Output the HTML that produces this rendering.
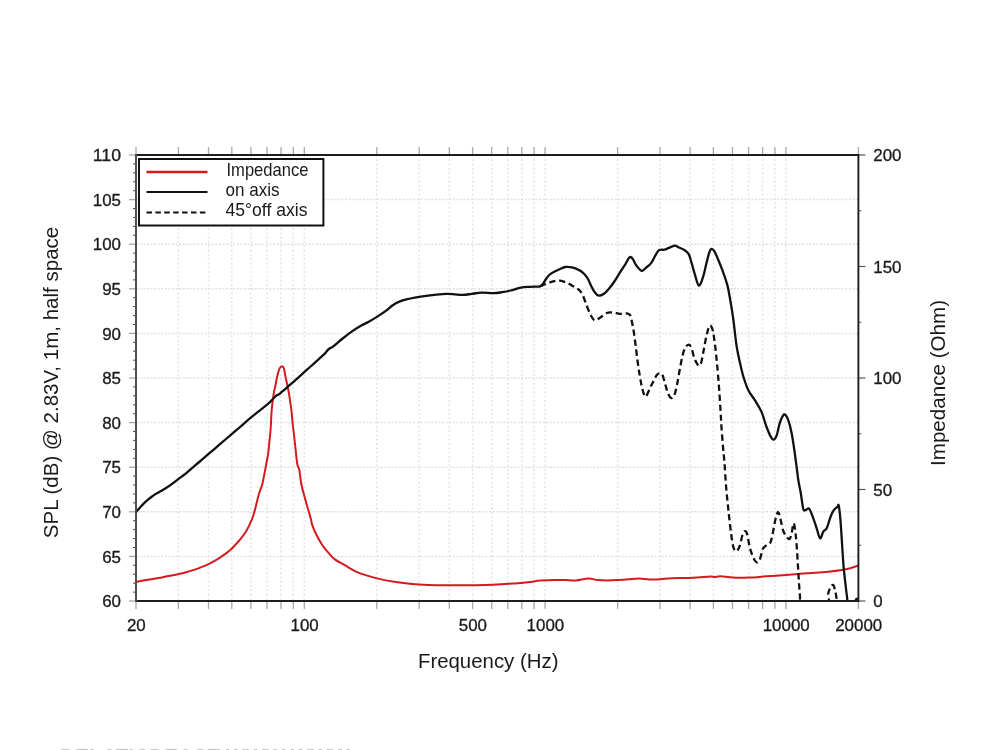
<!DOCTYPE html><html><head><meta charset="utf-8"><style>
html,body{margin:0;padding:0;background:#fff;width:1000px;height:750px;overflow:hidden}
svg{display:block;filter:blur(0.35px)} text{font-family:"Liberation Sans",sans-serif;fill:#1a1a1a} .t{stroke:#1a1a1a;stroke-width:0.3px}
</style></head><body>
<svg width="1000" height="750" viewBox="0 0 1000 750">
<g stroke="#e2e2e2" stroke-width="1.5" fill="none">
<line x1="178.4" y1="155.0" x2="178.4" y2="601.0" stroke-dasharray="1.8 2.5"/>
<line x1="208.5" y1="155.0" x2="208.5" y2="601.0" stroke-dasharray="1.8 2.5"/>
<line x1="231.8" y1="155.0" x2="231.8" y2="601.0" stroke-dasharray="1.8 2.5"/>
<line x1="250.9" y1="155.0" x2="250.9" y2="601.0" stroke-dasharray="1.8 2.5"/>
<line x1="267.0" y1="155.0" x2="267.0" y2="601.0" stroke-dasharray="1.8 2.5"/>
<line x1="281.0" y1="155.0" x2="281.0" y2="601.0" stroke-dasharray="1.8 2.5"/>
<line x1="293.3" y1="155.0" x2="293.3" y2="601.0" stroke-dasharray="1.8 2.5"/>
<line x1="304.3" y1="155.0" x2="304.3" y2="601.0" stroke-dasharray="1.8 2.5"/>
<line x1="376.8" y1="155.0" x2="376.8" y2="601.0" stroke-dasharray="1.8 2.5"/>
<line x1="419.2" y1="155.0" x2="419.2" y2="601.0" stroke-dasharray="1.8 2.5"/>
<line x1="449.3" y1="155.0" x2="449.3" y2="601.0" stroke-dasharray="1.8 2.5"/>
<line x1="472.6" y1="155.0" x2="472.6" y2="601.0" stroke-dasharray="1.8 2.5"/>
<line x1="491.7" y1="155.0" x2="491.7" y2="601.0" stroke-dasharray="1.8 2.5"/>
<line x1="507.8" y1="155.0" x2="507.8" y2="601.0" stroke-dasharray="1.8 2.5"/>
<line x1="521.8" y1="155.0" x2="521.8" y2="601.0" stroke-dasharray="1.8 2.5"/>
<line x1="534.1" y1="155.0" x2="534.1" y2="601.0" stroke-dasharray="1.8 2.5"/>
<line x1="545.1" y1="155.0" x2="545.1" y2="601.0" stroke-dasharray="1.8 2.5"/>
<line x1="617.6" y1="155.0" x2="617.6" y2="601.0" stroke-dasharray="1.8 2.5"/>
<line x1="660.0" y1="155.0" x2="660.0" y2="601.0" stroke-dasharray="1.8 2.5"/>
<line x1="690.1" y1="155.0" x2="690.1" y2="601.0" stroke-dasharray="1.8 2.5"/>
<line x1="713.4" y1="155.0" x2="713.4" y2="601.0" stroke-dasharray="1.8 2.5"/>
<line x1="732.5" y1="155.0" x2="732.5" y2="601.0" stroke-dasharray="1.8 2.5"/>
<line x1="748.6" y1="155.0" x2="748.6" y2="601.0" stroke-dasharray="1.8 2.5"/>
<line x1="762.6" y1="155.0" x2="762.6" y2="601.0" stroke-dasharray="1.8 2.5"/>
<line x1="774.9" y1="155.0" x2="774.9" y2="601.0" stroke-dasharray="1.8 2.5"/>
<line x1="785.9" y1="155.0" x2="785.9" y2="601.0" stroke-dasharray="1.8 2.5"/>
<line x1="136.0" y1="556.4" x2="858.4" y2="556.4" stroke-dasharray="2.1 1.5"/>
<line x1="136.0" y1="511.8" x2="858.4" y2="511.8" stroke-dasharray="2.1 1.5"/>
<line x1="136.0" y1="467.2" x2="858.4" y2="467.2" stroke-dasharray="2.1 1.5"/>
<line x1="136.0" y1="422.6" x2="858.4" y2="422.6" stroke-dasharray="2.1 1.5"/>
<line x1="136.0" y1="378.0" x2="858.4" y2="378.0" stroke-dasharray="2.1 1.5"/>
<line x1="136.0" y1="333.4" x2="858.4" y2="333.4" stroke-dasharray="2.1 1.5"/>
<line x1="136.0" y1="288.8" x2="858.4" y2="288.8" stroke-dasharray="2.1 1.5"/>
<line x1="136.0" y1="244.2" x2="858.4" y2="244.2" stroke-dasharray="2.1 1.5"/>
<line x1="136.0" y1="199.6" x2="858.4" y2="199.6" stroke-dasharray="2.1 1.5"/>
</g>
<g stroke="#a8a8a8" stroke-width="1.3" fill="none">
<line x1="136.0" y1="601.0" x2="136.0" y2="609.0"/>
<line x1="136.0" y1="155.0" x2="136.0" y2="147.0"/>
<line x1="178.4" y1="601.0" x2="178.4" y2="609.0"/>
<line x1="178.4" y1="155.0" x2="178.4" y2="147.0"/>
<line x1="208.5" y1="601.0" x2="208.5" y2="609.0"/>
<line x1="208.5" y1="155.0" x2="208.5" y2="147.0"/>
<line x1="231.8" y1="601.0" x2="231.8" y2="609.0"/>
<line x1="231.8" y1="155.0" x2="231.8" y2="147.0"/>
<line x1="250.9" y1="601.0" x2="250.9" y2="609.0"/>
<line x1="250.9" y1="155.0" x2="250.9" y2="147.0"/>
<line x1="267.0" y1="601.0" x2="267.0" y2="609.0"/>
<line x1="267.0" y1="155.0" x2="267.0" y2="147.0"/>
<line x1="281.0" y1="601.0" x2="281.0" y2="609.0"/>
<line x1="281.0" y1="155.0" x2="281.0" y2="147.0"/>
<line x1="293.3" y1="601.0" x2="293.3" y2="609.0"/>
<line x1="293.3" y1="155.0" x2="293.3" y2="147.0"/>
<line x1="304.3" y1="601.0" x2="304.3" y2="609.0"/>
<line x1="304.3" y1="155.0" x2="304.3" y2="147.0"/>
<line x1="376.8" y1="601.0" x2="376.8" y2="609.0"/>
<line x1="376.8" y1="155.0" x2="376.8" y2="147.0"/>
<line x1="419.2" y1="601.0" x2="419.2" y2="609.0"/>
<line x1="419.2" y1="155.0" x2="419.2" y2="147.0"/>
<line x1="449.3" y1="601.0" x2="449.3" y2="609.0"/>
<line x1="449.3" y1="155.0" x2="449.3" y2="147.0"/>
<line x1="472.6" y1="601.0" x2="472.6" y2="609.0"/>
<line x1="472.6" y1="155.0" x2="472.6" y2="147.0"/>
<line x1="491.7" y1="601.0" x2="491.7" y2="609.0"/>
<line x1="491.7" y1="155.0" x2="491.7" y2="147.0"/>
<line x1="507.8" y1="601.0" x2="507.8" y2="609.0"/>
<line x1="507.8" y1="155.0" x2="507.8" y2="147.0"/>
<line x1="521.8" y1="601.0" x2="521.8" y2="609.0"/>
<line x1="521.8" y1="155.0" x2="521.8" y2="147.0"/>
<line x1="534.1" y1="601.0" x2="534.1" y2="609.0"/>
<line x1="534.1" y1="155.0" x2="534.1" y2="147.0"/>
<line x1="545.1" y1="601.0" x2="545.1" y2="609.0"/>
<line x1="545.1" y1="155.0" x2="545.1" y2="147.0"/>
<line x1="617.6" y1="601.0" x2="617.6" y2="609.0"/>
<line x1="617.6" y1="155.0" x2="617.6" y2="147.0"/>
<line x1="660.0" y1="601.0" x2="660.0" y2="609.0"/>
<line x1="660.0" y1="155.0" x2="660.0" y2="147.0"/>
<line x1="690.1" y1="601.0" x2="690.1" y2="609.0"/>
<line x1="690.1" y1="155.0" x2="690.1" y2="147.0"/>
<line x1="713.4" y1="601.0" x2="713.4" y2="609.0"/>
<line x1="713.4" y1="155.0" x2="713.4" y2="147.0"/>
<line x1="732.5" y1="601.0" x2="732.5" y2="609.0"/>
<line x1="732.5" y1="155.0" x2="732.5" y2="147.0"/>
<line x1="748.6" y1="601.0" x2="748.6" y2="609.0"/>
<line x1="748.6" y1="155.0" x2="748.6" y2="147.0"/>
<line x1="762.6" y1="601.0" x2="762.6" y2="609.0"/>
<line x1="762.6" y1="155.0" x2="762.6" y2="147.0"/>
<line x1="774.9" y1="601.0" x2="774.9" y2="609.0"/>
<line x1="774.9" y1="155.0" x2="774.9" y2="147.0"/>
<line x1="785.9" y1="601.0" x2="785.9" y2="609.0"/>
<line x1="785.9" y1="155.0" x2="785.9" y2="147.0"/>
<line x1="858.4" y1="601.0" x2="858.4" y2="609.0"/>
<line x1="858.4" y1="155.0" x2="858.4" y2="147.0"/>
<line x1="129.0" y1="601.0" x2="136.0" y2="601.0"/>
<line x1="129.0" y1="556.4" x2="136.0" y2="556.4"/>
<line x1="129.0" y1="511.8" x2="136.0" y2="511.8"/>
<line x1="129.0" y1="467.2" x2="136.0" y2="467.2"/>
<line x1="129.0" y1="422.6" x2="136.0" y2="422.6"/>
<line x1="129.0" y1="378.0" x2="136.0" y2="378.0"/>
<line x1="129.0" y1="333.4" x2="136.0" y2="333.4"/>
<line x1="129.0" y1="288.8" x2="136.0" y2="288.8"/>
<line x1="129.0" y1="244.2" x2="136.0" y2="244.2"/>
<line x1="129.0" y1="199.6" x2="136.0" y2="199.6"/>
<line x1="129.0" y1="155.0" x2="136.0" y2="155.0"/>
</g><g stroke="#555" stroke-width="1.2" fill="none">
<line x1="858.4" y1="601.0" x2="865.4" y2="601.0"/>
<line x1="858.4" y1="489.5" x2="865.4" y2="489.5"/>
<line x1="858.4" y1="378.0" x2="865.4" y2="378.0"/>
<line x1="858.4" y1="266.5" x2="865.4" y2="266.5"/>
<line x1="858.4" y1="155.0" x2="865.4" y2="155.0"/>
</g>
<g stroke="#555" stroke-width="1" fill="none">
<line x1="133.0" y1="592.1" x2="136.0" y2="592.1"/>
<line x1="133.0" y1="583.2" x2="136.0" y2="583.2"/>
<line x1="133.0" y1="574.2" x2="136.0" y2="574.2"/>
<line x1="133.0" y1="565.3" x2="136.0" y2="565.3"/>
<line x1="133.0" y1="547.5" x2="136.0" y2="547.5"/>
<line x1="133.0" y1="538.6" x2="136.0" y2="538.6"/>
<line x1="133.0" y1="529.6" x2="136.0" y2="529.6"/>
<line x1="133.0" y1="520.7" x2="136.0" y2="520.7"/>
<line x1="133.0" y1="502.9" x2="136.0" y2="502.9"/>
<line x1="133.0" y1="494.0" x2="136.0" y2="494.0"/>
<line x1="133.0" y1="485.0" x2="136.0" y2="485.0"/>
<line x1="133.0" y1="476.1" x2="136.0" y2="476.1"/>
<line x1="133.0" y1="458.3" x2="136.0" y2="458.3"/>
<line x1="133.0" y1="449.4" x2="136.0" y2="449.4"/>
<line x1="133.0" y1="440.4" x2="136.0" y2="440.4"/>
<line x1="133.0" y1="431.5" x2="136.0" y2="431.5"/>
<line x1="133.0" y1="413.7" x2="136.0" y2="413.7"/>
<line x1="133.0" y1="404.8" x2="136.0" y2="404.8"/>
<line x1="133.0" y1="395.8" x2="136.0" y2="395.8"/>
<line x1="133.0" y1="386.9" x2="136.0" y2="386.9"/>
<line x1="133.0" y1="369.1" x2="136.0" y2="369.1"/>
<line x1="133.0" y1="360.2" x2="136.0" y2="360.2"/>
<line x1="133.0" y1="351.2" x2="136.0" y2="351.2"/>
<line x1="133.0" y1="342.3" x2="136.0" y2="342.3"/>
<line x1="133.0" y1="324.5" x2="136.0" y2="324.5"/>
<line x1="133.0" y1="315.6" x2="136.0" y2="315.6"/>
<line x1="133.0" y1="306.6" x2="136.0" y2="306.6"/>
<line x1="133.0" y1="297.7" x2="136.0" y2="297.7"/>
<line x1="133.0" y1="279.9" x2="136.0" y2="279.9"/>
<line x1="133.0" y1="271.0" x2="136.0" y2="271.0"/>
<line x1="133.0" y1="262.0" x2="136.0" y2="262.0"/>
<line x1="133.0" y1="253.1" x2="136.0" y2="253.1"/>
<line x1="133.0" y1="235.3" x2="136.0" y2="235.3"/>
<line x1="133.0" y1="226.4" x2="136.0" y2="226.4"/>
<line x1="133.0" y1="217.4" x2="136.0" y2="217.4"/>
<line x1="133.0" y1="208.5" x2="136.0" y2="208.5"/>
<line x1="133.0" y1="190.7" x2="136.0" y2="190.7"/>
<line x1="133.0" y1="181.8" x2="136.0" y2="181.8"/>
<line x1="133.0" y1="172.8" x2="136.0" y2="172.8"/>
<line x1="133.0" y1="163.9" x2="136.0" y2="163.9"/>
<line x1="858.4" y1="545.2" x2="861.4" y2="545.2"/>
<line x1="858.4" y1="433.8" x2="861.4" y2="433.8"/>
<line x1="858.4" y1="322.2" x2="861.4" y2="322.2"/>
<line x1="858.4" y1="210.8" x2="861.4" y2="210.8"/>
</g>
<defs><clipPath id="pc"><rect x="136.0" y="153.0" width="722.4" height="447.5"/></clipPath></defs>
<g clip-path="url(#pc)">
<path fill="none" stroke="#d41a1f" stroke-width="2.0" stroke-linejoin="round" d="M136.1,581.9C137.8,581.6 143.0,580.5 146.0,580.0C149.0,579.5 151.3,579.1 154.0,578.7C156.7,578.3 159.3,577.9 162.0,577.4C164.7,576.9 167.3,576.3 170.0,575.8C172.7,575.3 175.3,574.8 178.0,574.2C180.7,573.6 183.3,573.0 186.0,572.3C188.7,571.6 191.3,570.8 194.0,569.9C196.7,569.0 199.3,568.0 202.0,566.9C204.7,565.8 207.3,564.7 210.0,563.4C212.7,562.1 215.3,560.6 218.0,558.9C220.7,557.2 223.9,554.9 226.0,553.4C228.1,551.9 229.2,551.1 230.8,549.6C232.4,548.1 234.0,546.2 235.6,544.5C237.2,542.8 238.8,541.2 240.4,539.2C242.0,537.2 243.9,534.8 245.2,532.8C246.5,530.8 247.5,528.9 248.4,527.2C249.3,525.5 249.8,523.9 250.5,522.4C251.2,520.9 251.7,520.3 252.5,518.0C253.3,515.7 254.3,512.4 255.3,508.5C256.3,504.6 257.6,498.6 258.7,494.7C259.8,490.8 261.1,488.4 262.0,485.3C262.9,482.2 263.3,479.3 264.0,476.0C264.7,472.7 265.3,468.9 266.0,465.3C266.7,461.8 267.4,458.5 268.0,454.7C268.6,450.9 268.9,447.1 269.3,442.7C269.8,438.2 270.3,433.4 270.7,428.0C271.1,422.6 271.2,415.6 271.7,410.0C272.2,404.4 273.0,398.6 273.6,394.5C274.2,390.4 274.9,388.3 275.5,385.2C276.1,382.1 276.6,378.7 277.3,375.9C278.0,373.1 278.8,370.0 279.6,368.4C280.4,366.8 281.3,366.2 282.0,366.2C282.7,366.2 283.3,366.5 283.9,368.4C284.5,370.3 284.9,374.0 285.7,377.7C286.5,381.4 287.6,385.5 288.5,390.8C289.4,396.1 290.6,403.8 291.3,409.5C292.0,415.2 292.4,421.1 292.8,425.0C293.2,428.9 293.4,429.4 293.8,433.0C294.2,436.6 294.7,441.5 295.3,446.7C295.9,451.9 296.6,460.1 297.3,464.0C298.0,467.9 298.6,466.7 299.3,470.0C300.0,473.3 300.4,479.4 301.3,484.0C302.2,488.6 303.7,493.5 304.7,497.3C305.7,501.1 306.5,503.9 307.3,506.7C308.1,509.5 308.9,511.8 309.5,514.0C310.1,516.2 310.8,518.3 311.2,520.0C311.6,521.7 311.2,522.1 312.0,524.4C312.8,526.7 314.3,530.5 316.0,534.0C317.7,537.5 320.3,542.0 322.4,545.2C324.5,548.4 326.7,550.8 328.8,553.2C330.9,555.6 332.5,557.6 335.2,559.6C337.9,561.6 341.3,563.2 344.8,565.2C348.3,567.2 352.3,569.9 356.0,571.6C359.7,573.3 363.2,574.4 367.2,575.6C371.2,576.9 375.2,578.0 380.0,579.1C384.8,580.2 390.7,581.2 396.0,582.0C401.3,582.8 406.7,583.4 412.0,583.9C417.3,584.4 422.7,584.7 428.0,584.9C433.3,585.1 436.8,585.2 444.0,585.2C451.2,585.2 463.0,585.3 471.0,585.2C479.0,585.1 485.0,585.1 492.0,584.8C499.0,584.5 507.8,583.9 513.0,583.5C518.2,583.1 520.0,583.1 523.5,582.7C527.0,582.4 531.2,581.8 534.0,581.4C536.8,581.0 536.8,580.8 540.3,580.6C543.8,580.4 550.8,580.1 555.0,580.0C559.2,579.9 562.0,579.9 565.5,580.0C569.0,580.1 572.8,580.6 576.0,580.4C579.2,580.2 582.2,579.2 584.5,578.9C586.8,578.6 587.6,578.3 589.7,578.5C591.8,578.7 594.0,579.7 597.0,580.0C600.0,580.3 604.1,580.4 607.6,580.4C611.1,580.4 614.5,580.2 618.0,580.0C621.5,579.8 625.1,579.5 628.6,579.3C632.1,579.0 635.5,578.5 639.0,578.5C642.5,578.5 646.1,579.4 649.6,579.5C653.1,579.6 656.4,579.5 660.0,579.3C663.6,579.1 666.0,578.5 671.5,578.2C677.0,578.0 686.5,578.1 693.0,577.8C699.5,577.5 706.6,576.6 710.2,576.5C713.8,576.4 712.7,576.9 714.5,576.9C716.3,576.9 717.4,576.1 721.0,576.3C724.6,576.4 731.2,577.6 736.0,577.8C740.8,578.0 745.5,577.8 750.0,577.6C754.5,577.4 758.2,577.0 763.0,576.6C767.8,576.2 773.7,575.9 779.0,575.5C784.3,575.1 789.5,574.6 795.0,574.2C800.5,573.8 806.2,573.4 811.7,573.0C817.2,572.6 823.3,572.2 828.3,571.7C833.3,571.2 838.1,570.6 841.7,570.0C845.3,569.4 847.2,569.0 850.0,568.3C852.8,567.5 857.2,566.0 858.6,565.5"/>
<path fill="none" stroke="#111" stroke-width="2.3" stroke-dasharray="6.3 3.7" stroke-linejoin="round" d="M540.0,286.3C541.1,285.9 544.5,284.5 546.7,283.7C548.9,282.9 551.1,281.9 553.3,281.4C555.5,280.9 557.8,280.5 560.0,280.7C562.2,280.9 564.5,281.8 566.7,282.7C568.9,283.6 571.3,285.1 573.3,286.3C575.3,287.5 577.1,288.2 578.7,289.7C580.3,291.1 581.4,292.3 582.7,295.0C584.0,297.7 585.4,302.4 586.7,305.7C588.0,309.0 589.4,312.6 590.7,315.0C592.0,317.4 593.2,319.9 594.7,320.3C596.2,320.8 598.0,318.9 600.0,317.7C602.0,316.5 604.5,313.9 606.7,313.0C608.9,312.1 611.1,312.5 613.3,312.6C615.5,312.8 617.8,313.8 620.0,313.9C622.2,314.0 625.0,313.2 626.7,313.4C628.4,313.6 629.2,313.8 630.0,315.0C630.8,316.2 631.1,318.0 631.7,320.7C632.3,323.4 633.0,327.1 633.7,331.3C634.4,335.5 635.0,340.9 635.7,346.0C636.4,351.1 637.0,357.1 637.7,362.0C638.4,366.9 639.0,371.3 639.7,375.3C640.4,379.3 640.9,382.7 641.7,386.0C642.5,389.3 643.5,393.6 644.3,395.3C645.1,397.0 645.4,397.1 646.3,396.0C647.2,394.9 648.5,391.2 649.7,388.7C650.9,386.1 652.5,383.0 653.7,380.7C654.9,378.4 656.0,375.9 657.0,374.7C658.0,373.5 658.5,373.3 659.4,373.3C660.3,373.3 661.4,373.0 662.3,374.7C663.2,376.4 664.1,380.3 665.0,383.3C665.9,386.3 666.7,390.2 667.7,392.7C668.7,395.1 669.9,397.6 671.0,398.0C672.1,398.4 673.3,397.5 674.3,395.3C675.3,393.1 676.1,388.9 677.0,384.7C677.9,380.5 678.8,374.7 679.7,370.0C680.6,365.3 681.4,360.4 682.3,356.7C683.2,353.0 683.9,350.0 685.0,348.0C686.1,346.0 687.9,344.6 689.0,344.7C690.1,344.8 690.8,346.5 691.7,348.7C692.6,350.9 693.2,355.2 694.3,358.0C695.4,360.8 697.2,364.4 698.3,365.3C699.4,366.2 700.1,365.9 701.0,363.3C701.9,360.8 702.8,354.4 703.7,350.0C704.6,345.6 705.4,340.6 706.3,336.7C707.2,332.8 708.2,328.5 709.0,326.7C709.8,324.9 710.3,325.2 711.0,326.0C711.7,326.8 712.3,328.2 713.0,331.3C713.7,334.4 714.3,339.4 715.0,344.7C715.7,350.0 716.3,356.2 717.0,363.3C717.7,370.4 718.4,379.5 719.0,387.3C719.6,395.1 720.1,403.6 720.5,410.0C720.9,416.4 721.0,419.9 721.4,426.0C721.8,432.1 722.5,440.5 723.0,446.8C723.5,453.1 724.1,457.1 724.6,464.0C725.1,470.9 725.5,480.0 726.2,488.0C726.9,496.0 727.8,504.5 728.6,512.0C729.4,519.5 730.2,526.9 731.0,532.8C731.8,538.7 732.5,544.1 733.4,547.2C734.3,550.3 735.5,551.5 736.6,551.2C737.7,550.9 738.9,548.1 739.8,545.6C740.7,543.1 741.4,538.4 742.2,536.0C743.0,533.6 743.8,531.6 744.6,531.2C745.4,530.8 746.2,531.2 747.0,533.6C747.8,536.0 748.6,542.4 749.4,545.6C750.1,548.8 750.6,550.6 751.5,553.0C752.4,555.4 753.5,558.4 754.5,560.0C755.5,561.6 756.5,562.8 757.5,562.5C758.5,562.2 759.3,560.8 760.2,558.5C761.1,556.2 761.8,551.1 762.8,549.0C763.8,546.9 764.8,546.6 766.0,545.6C767.2,544.6 769.1,544.9 770.2,543.0C771.3,541.1 771.7,538.0 772.6,534.0C773.5,530.0 774.6,522.7 775.5,519.0C776.4,515.3 777.3,511.8 778.2,512.0C779.1,512.2 779.9,516.9 780.7,520.0C781.5,523.1 782.1,527.7 783.1,530.5C784.1,533.3 785.7,535.6 786.8,537.0C787.9,538.4 788.9,539.5 789.7,538.8C790.5,538.0 791.2,535.1 791.8,532.5C792.4,529.9 792.9,523.8 793.4,523.2C793.9,522.6 794.5,525.0 795.0,528.8C795.5,532.6 796.2,538.9 796.7,546.0C797.2,553.1 797.8,563.2 798.3,571.7C798.8,580.2 799.5,591.2 800.0,596.7C800.5,602.2 796.5,603.6 801.0,605.0C805.5,606.4 822.2,607.0 826.7,605.0C831.2,603.0 827.6,596.3 828.3,593.3C829.0,590.2 830.0,588.1 830.8,586.7C831.6,585.3 832.6,584.5 833.3,585.0C834.0,585.5 834.5,588.0 835.0,590.0C835.5,592.0 835.9,594.2 836.3,596.7C836.7,599.2 837.3,603.6 837.5,605.0"/>
<path fill="none" stroke="#111" stroke-width="2.3" stroke-linejoin="round" d="M136.0,512.0C136.8,511.1 139.0,508.5 140.7,506.7C142.4,504.9 144.0,503.1 146.0,501.3C148.0,499.5 150.5,497.6 152.7,496.0C154.9,494.4 157.1,493.3 159.3,492.0C161.5,490.7 163.8,489.4 166.0,488.0C168.2,486.6 170.7,484.8 172.7,483.3C174.7,481.9 175.8,481.0 178.0,479.3C180.2,477.6 183.3,475.5 186.0,473.3C188.7,471.1 191.3,468.7 194.0,466.4C196.7,464.1 199.3,461.9 202.0,459.6C204.7,457.3 207.3,455.0 210.0,452.7C212.7,450.4 215.3,448.2 218.0,445.9C220.7,443.6 223.3,441.3 226.0,439.0C228.7,436.7 231.3,434.4 234.0,432.1C236.7,429.8 239.4,427.5 242.0,425.3C244.6,423.1 246.5,421.1 249.3,418.8C252.1,416.5 255.6,413.8 258.7,411.3C261.8,408.8 265.5,406.1 268.0,403.9C270.5,401.7 272.2,399.7 273.6,398.3C275.0,396.9 275.5,396.2 276.4,395.5C277.3,394.8 278.3,394.8 279.2,394.2C280.1,393.6 280.4,393.0 282.0,391.7C283.6,390.4 286.2,388.1 288.5,386.1C290.8,384.1 293.2,382.1 296.0,379.6C298.8,377.1 302.2,374.0 305.3,371.2C308.4,368.4 311.6,365.6 314.7,362.8C317.8,360.0 321.8,356.5 324.0,354.4C326.2,352.3 326.6,351.2 327.7,350.1C328.8,349.0 329.6,348.5 330.5,347.9C331.4,347.3 331.3,348.0 333.3,346.4C335.3,344.8 339.6,341.0 342.7,338.5C345.8,336.0 348.9,333.6 352.0,331.4C355.1,329.2 358.5,327.1 361.3,325.5C364.1,323.9 366.0,323.3 368.8,321.7C371.6,320.1 375.0,318.1 378.1,316.1C381.2,314.1 385.0,311.5 387.5,309.6C390.0,307.7 390.7,306.4 393.1,304.9C395.5,303.4 399.0,301.8 401.9,300.7C404.8,299.6 407.3,299.2 410.4,298.5C413.5,297.8 416.9,297.2 420.6,296.6C424.3,296.0 428.2,295.6 432.5,295.1C436.8,294.7 442.4,294.0 446.1,293.9C449.8,293.8 451.8,294.1 454.6,294.3C457.4,294.5 460.3,295.0 463.1,294.9C465.9,294.8 468.5,294.3 471.6,293.9C474.7,293.5 478.1,292.8 481.8,292.7C485.5,292.6 490.3,293.3 493.7,293.2C497.1,293.1 499.4,292.6 502.2,292.2C505.0,291.8 507.6,291.3 510.7,290.5C513.8,289.7 517.9,288.2 521.0,287.6C524.1,287.0 526.7,287.0 529.5,286.8C532.3,286.6 536.2,286.7 538.0,286.6C539.8,286.5 539.2,286.7 540.0,286.3C540.8,285.9 541.7,285.5 542.7,284.3C543.7,283.1 544.9,280.6 546.0,279.0C547.1,277.4 548.1,276.1 549.3,275.0C550.5,273.9 551.5,273.3 553.3,272.3C555.1,271.3 558.0,269.9 560.0,269.0C562.0,268.1 563.3,267.3 565.3,267.0C567.3,266.7 569.8,266.9 572.0,267.4C574.2,267.9 576.7,268.8 578.7,269.9C580.7,270.9 582.5,272.2 584.0,273.7C585.5,275.2 586.8,276.9 588.0,279.0C589.2,281.1 590.2,284.1 591.3,286.3C592.4,288.5 593.5,290.7 594.7,292.3C595.9,293.9 597.2,295.5 598.7,295.7C600.2,295.9 602.2,294.9 604.0,293.7C605.8,292.5 607.5,290.4 609.3,288.3C611.1,286.2 612.9,283.7 614.7,281.0C616.5,278.3 618.2,275.1 620.0,272.3C621.8,269.5 623.8,266.6 625.3,264.3C626.8,262.0 627.8,259.5 628.7,258.3C629.6,257.1 629.8,256.9 630.5,257.0C631.2,257.1 631.9,257.7 632.9,259.2C633.9,260.7 635.1,263.9 636.6,265.8C638.1,267.8 640.1,270.6 641.7,270.9C643.3,271.2 644.5,268.9 646.1,267.6C647.7,266.3 649.7,265.0 651.3,262.9C652.9,260.8 654.4,256.9 655.7,254.8C657.0,252.7 657.8,250.9 659.3,250.1C660.8,249.2 662.9,250.1 664.5,249.7C666.1,249.3 667.2,248.6 668.9,247.9C670.6,247.2 673.0,245.7 674.7,245.6C676.4,245.5 677.5,246.8 679.1,247.5C680.7,248.2 682.7,248.9 684.3,250.0C685.9,251.1 687.5,251.9 688.7,254.1C689.9,256.2 690.6,259.7 691.6,262.9C692.6,266.1 693.3,269.3 694.5,273.1C695.7,276.9 697.4,285.1 698.9,285.6C700.4,286.1 702.1,279.7 703.3,276.1C704.5,272.6 705.2,268.2 706.2,264.3C707.2,260.4 708.3,255.2 709.2,252.6C710.1,250.0 710.5,249.2 711.4,248.9C712.2,248.7 713.2,249.4 714.3,251.1C715.4,252.8 716.6,256.0 718.0,259.2C719.4,262.4 720.8,265.8 722.4,270.2C724.0,274.6 726.2,280.5 727.5,285.6C728.8,290.7 729.4,295.3 730.4,301.0C731.4,306.7 732.4,312.5 733.4,320.0C734.4,327.5 735.5,339.0 736.6,346.0C737.7,353.0 738.6,356.7 739.8,362.0C741.0,367.3 742.3,373.2 743.8,378.0C745.3,382.8 746.7,387.1 748.6,390.8C750.5,394.5 752.9,396.9 755.0,400.4C757.1,403.9 759.5,407.3 761.4,411.6C763.3,415.9 764.7,422.0 766.2,426.0C767.7,430.0 769.0,433.3 770.2,435.6C771.4,437.9 772.3,439.6 773.4,439.6C774.5,439.6 775.5,438.4 776.6,435.6C777.7,432.8 778.7,426.1 779.8,422.8C780.9,419.5 782.1,416.9 783.0,415.6C783.9,414.3 784.5,413.9 785.4,414.8C786.3,415.7 787.5,418.0 788.6,421.2C789.7,424.4 790.9,429.3 791.8,434.0C792.7,438.7 793.4,443.9 794.2,449.2C795.0,454.5 795.8,460.9 796.5,466.0C797.2,471.1 797.6,475.4 798.3,480.0C799.0,484.6 800.0,488.5 800.8,493.3C801.6,498.1 802.5,506.2 803.3,509.0C804.1,511.8 804.8,510.0 805.8,510.0C806.8,510.0 808.0,507.4 809.2,508.8C810.5,510.2 812.0,515.0 813.3,518.3C814.5,521.5 815.6,525.0 816.7,528.3C817.8,531.6 818.9,537.7 820.0,538.3C821.1,538.9 822.2,533.4 823.3,531.7C824.4,530.0 825.6,530.5 826.7,528.3C827.8,526.1 828.9,521.2 830.0,518.3C831.1,515.4 832.0,512.7 833.3,510.8C834.5,508.9 836.6,507.6 837.5,506.7C838.4,505.8 838.2,503.4 838.7,505.3C839.2,507.2 839.8,512.8 840.3,518.3C840.8,523.8 841.2,530.8 841.7,538.3C842.2,545.8 842.8,556.3 843.3,563.3C843.8,570.2 844.4,574.4 845.0,580.0C845.6,585.6 846.5,593.0 847.0,596.7C847.5,600.4 846.7,601.1 848.0,602.0C849.3,602.9 853.7,602.4 855.0,602.0C856.3,601.6 855.5,600.1 856.0,599.5C856.5,598.9 857.7,598.7 858.0,598.5"/>
</g>
<path d="M136.0,155.0 H858.4 V601.0 H136.0" fill="none" stroke="#1e1e1e" stroke-width="1.9"/>
<line x1="136.0" y1="154.1" x2="136.0" y2="601.9" stroke="#484848" stroke-width="1.9"/>
<rect x="139" y="159" width="184.4" height="66.5" fill="#fff" stroke="#111" stroke-width="2"/>
<line x1="146.5" y1="172" x2="207.5" y2="172" stroke="#d41a1f" stroke-width="2.4"/>
<line x1="146.5" y1="192" x2="207.5" y2="192" stroke="#111" stroke-width="2.2"/>
<line x1="146.5" y1="212.5" x2="207.5" y2="212.5" stroke="#111" stroke-width="2.2" stroke-dasharray="5.5 3.4"/>
<text x="226.5" y="175.5" font-size="19" textLength="82" lengthAdjust="spacingAndGlyphs">Impedance</text>
<text x="225.5" y="195.7" font-size="19" textLength="54" lengthAdjust="spacingAndGlyphs">on axis</text>
<text x="225.5" y="216" font-size="19" textLength="82" lengthAdjust="spacingAndGlyphs">45°off axis</text>
<text class="t" x="121" y="607.2" font-size="16" text-anchor="end" textLength="18.8" lengthAdjust="spacingAndGlyphs">60</text>
<text class="t" x="121" y="562.6" font-size="16" text-anchor="end" textLength="18.8" lengthAdjust="spacingAndGlyphs">65</text>
<text class="t" x="121" y="518.0" font-size="16" text-anchor="end" textLength="18.8" lengthAdjust="spacingAndGlyphs">70</text>
<text class="t" x="121" y="473.4" font-size="16" text-anchor="end" textLength="18.8" lengthAdjust="spacingAndGlyphs">75</text>
<text class="t" x="121" y="428.8" font-size="16" text-anchor="end" textLength="18.8" lengthAdjust="spacingAndGlyphs">80</text>
<text class="t" x="121" y="384.2" font-size="16" text-anchor="end" textLength="18.8" lengthAdjust="spacingAndGlyphs">85</text>
<text class="t" x="121" y="339.6" font-size="16" text-anchor="end" textLength="18.8" lengthAdjust="spacingAndGlyphs">90</text>
<text class="t" x="121" y="295.0" font-size="16" text-anchor="end" textLength="18.8" lengthAdjust="spacingAndGlyphs">95</text>
<text class="t" x="121" y="250.4" font-size="16" text-anchor="end" textLength="28.2" lengthAdjust="spacingAndGlyphs">100</text>
<text class="t" x="121" y="205.8" font-size="16" text-anchor="end" textLength="28.2" lengthAdjust="spacingAndGlyphs">105</text>
<text class="t" x="121" y="161.2" font-size="16" text-anchor="end" textLength="28.2" lengthAdjust="spacingAndGlyphs">110</text>
<text class="t" x="873.3" y="607.2" font-size="16" textLength="9.4" lengthAdjust="spacingAndGlyphs">0</text>
<text class="t" x="873.3" y="495.7" font-size="16" textLength="18.8" lengthAdjust="spacingAndGlyphs">50</text>
<text class="t" x="873.3" y="384.2" font-size="16" textLength="28.2" lengthAdjust="spacingAndGlyphs">100</text>
<text class="t" x="873.3" y="272.7" font-size="16" textLength="28.2" lengthAdjust="spacingAndGlyphs">150</text>
<text class="t" x="873.3" y="161.2" font-size="16" textLength="28.2" lengthAdjust="spacingAndGlyphs">200</text>
<text class="t" x="136.3" y="631" font-size="16" text-anchor="middle" textLength="18.8" lengthAdjust="spacingAndGlyphs">20</text>
<text class="t" x="304.6" y="631" font-size="16" text-anchor="middle" textLength="28.2" lengthAdjust="spacingAndGlyphs">100</text>
<text class="t" x="472.9" y="631" font-size="16" text-anchor="middle" textLength="28.2" lengthAdjust="spacingAndGlyphs">500</text>
<text class="t" x="545.4" y="631" font-size="16" text-anchor="middle" textLength="37.6" lengthAdjust="spacingAndGlyphs">1000</text>
<text class="t" x="786.2" y="631" font-size="16" text-anchor="middle" textLength="47.0" lengthAdjust="spacingAndGlyphs">10000</text>
<text class="t" x="858.7" y="631" font-size="16" text-anchor="middle" textLength="47.0" lengthAdjust="spacingAndGlyphs">20000</text>
<text x="488.2" y="668.4" font-size="20" text-anchor="middle" textLength="140.5" lengthAdjust="spacingAndGlyphs">Frequency (Hz)</text>
<text transform="translate(58,382.5) rotate(-90)" font-size="20" text-anchor="middle" textLength="311.5" lengthAdjust="spacingAndGlyphs">SPL (dB) @ 2.83V, 1m, half space</text>
<text transform="translate(945.3,383) rotate(-90)" font-size="20" text-anchor="middle" textLength="166" lengthAdjust="spacingAndGlyphs">Impedance (Ohm)</text>
<text x="60" y="764" font-size="22" font-weight="bold" textLength="290" lengthAdjust="spacingAndGlyphs" style="fill:#f2b4b4">DELATICDEAST WWW WWW</text>
</svg></body></html>
